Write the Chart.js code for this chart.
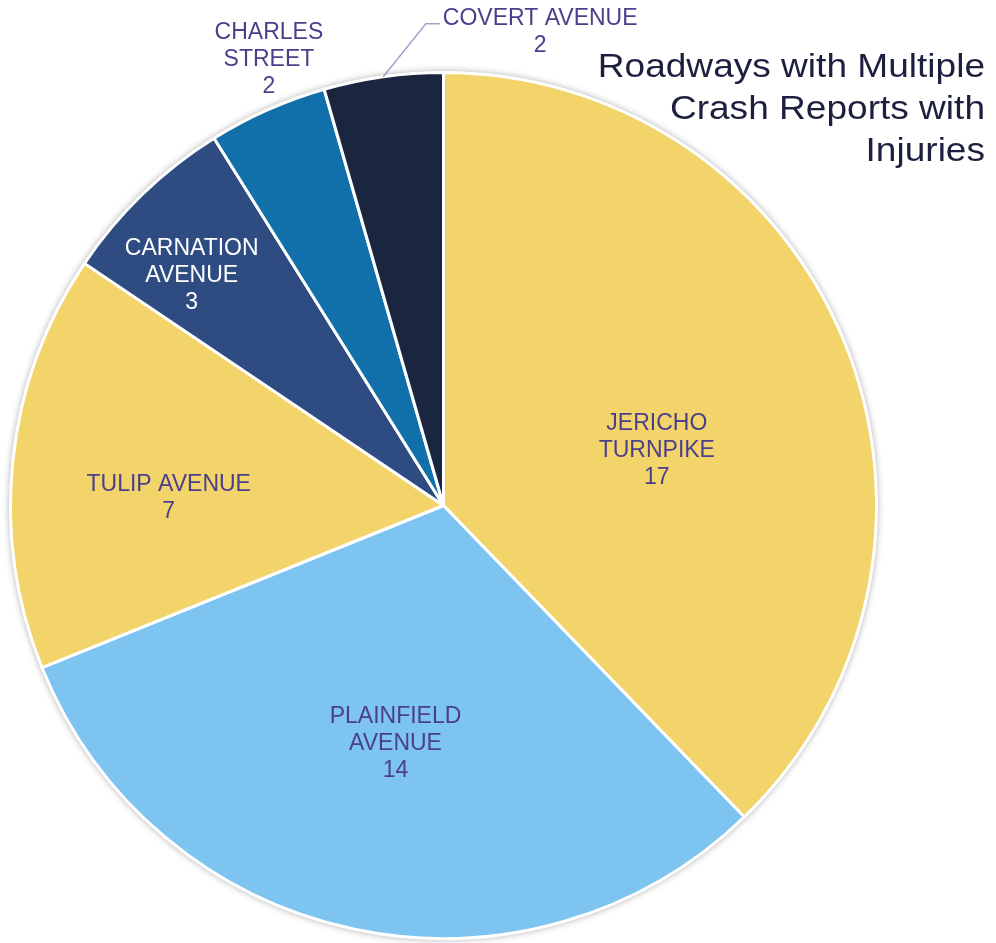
<!DOCTYPE html>
<html>
<head>
<meta charset="utf-8">
<script src="https://cdn.jsdelivr.net/npm/chart.js@4"></script>
<style>
    html, body { margin: 0; padding: 0; background: #ffffff; }
    #wrap { position: relative; width: 996px; height: 943px; }
</style>
</head>
<body>
<div id="wrap"><canvas id="pieChart" width="996" height="943"></canvas></div>
<script>
const roads = ['JERICHO TURNPIKE', 'PLAINFIELD AVENUE', 'TULIP AVENUE', 'CARNATION AVENUE', 'CHARLES STREET', 'COVERT AVENUE'];
const labelLines = [['JERICHO', 'TURNPIKE'], ['PLAINFIELD', 'AVENUE'], ['TULIP AVENUE'], ['CARNATION', 'AVENUE'], ['CHARLES', 'STREET'], ['COVERT AVENUE']];
const crashes = [17, 14, 7, 3, 2, 2];
const titleLines = ['Roadways with Multiple', 'Crash Reports with', 'Injuries'];

const sliceColors = ['#f2d46b', '#7dc4f1', '#f2d46b', '#2e4b82', '#1170a9', '#1a2640'];
const labelColors = ['#4b3f8c', '#4b3f8c', '#4b3f8c', '#ffffff', '#4b3f8c', '#4b3f8c'];

// where each label sits: fraction of radius and angle shift (deg) from slice middle
const labelSpots = [
    { r: 0.51, shift: 7 },
    { r: 0.556, shift: -0.5 },
    { r: 0.635, shift: -4 },
    { r: 0.79, shift: -3.4 },
    { r: 1.11, shift: 2.7 },
    { r: 1.12, shift: 19.5, leader: true }
];

const shadowPlugin = {
    id: 'pieShadow',
    beforeDatasetsDraw(chart) {
        const arc = chart.getDatasetMeta(0).data[0];
        if (!arc) return;
        const ctx = chart.ctx;
        ctx.save();
        ctx.shadowColor = 'rgba(0, 0, 0, 0.35)';
        ctx.shadowBlur = 7;
        ctx.fillStyle = '#ffffff';
        ctx.beginPath();
        ctx.arc(arc.x, arc.y, arc.outerRadius + 1, 0, Math.PI * 2);
        ctx.fill();
        ctx.restore();
    }
};

const labelPlugin = {
    id: 'sliceLabels',
    afterDatasetsDraw(chart) {
        const ctx = chart.ctx;
        const arcs = chart.getDatasetMeta(0).data;
        const lineH = 27;
        ctx.save();
        ctx.font = '23px "Liberation Sans", Arial, sans-serif';
        ctx.textAlign = 'center';
        ctx.textBaseline = 'middle';
        arcs.forEach((arc, i) => {
            const spot = labelSpots[i];
            const mid = (arc.startAngle + arc.endAngle) / 2;
            const a = mid + spot.shift * Math.PI / 180;
            const rad = arc.outerRadius * spot.r;
            const x = arc.x + Math.cos(a) * rad;
            const y = arc.y + Math.sin(a) * rad + 2;
            const lines = labelLines[i].concat([String(crashes[i])]);
            const top = y - (lines.length - 1) * lineH / 2;

            if (spot.leader) {
                const w = ctx.measureText(lines[0]).width;
                const left = x - w / 2;
                ctx.strokeStyle = '#a39fcb';
                ctx.lineWidth = 1.5;
                ctx.beginPath();
                ctx.moveTo(arc.x + Math.cos(mid) * arc.outerRadius, arc.y + Math.sin(mid) * arc.outerRadius);
                ctx.lineTo(left - 17, top + 5);
                ctx.lineTo(left - 3, top + 5);
                ctx.stroke();
            }

            ctx.fillStyle = labelColors[i];
            lines.forEach((t, k) => ctx.fillText(t, x, top + k * lineH));
        });

        // title, right aligned in the top right corner (a touch wider than Arial)
        ctx.font = '34px "Liberation Sans", Arial, sans-serif';
        ctx.fillStyle = '#1c1f3e';
        ctx.textAlign = 'right';
        ctx.textBaseline = 'alphabetic';
        ctx.translate(985, 0);
        ctx.scale(1.09, 1);
        titleLines.forEach((t, k) => ctx.fillText(t, 0, 77 + k * 42));
        ctx.restore();
    }
};

const chart = new Chart(document.getElementById('pieChart').getContext('2d'), {
    type: 'pie',
    data: {
        labels: roads,
        datasets: [{
            data: crashes,
            backgroundColor: sliceColors,
            borderColor: '#ffffff',
            borderWidth: 3
        }]
    },
    options: {
        responsive: false,
        animation: false,
        events: [],
        layout: {
            padding: { left: 9, top: 71, right: 118, bottom: 3 }
        },
        plugins: {
            legend: { display: false },
            tooltip: { enabled: false },
            title: { display: false }
        }
    },
    plugins: [shadowPlugin, labelPlugin]
});
</script>
</body>
</html>
